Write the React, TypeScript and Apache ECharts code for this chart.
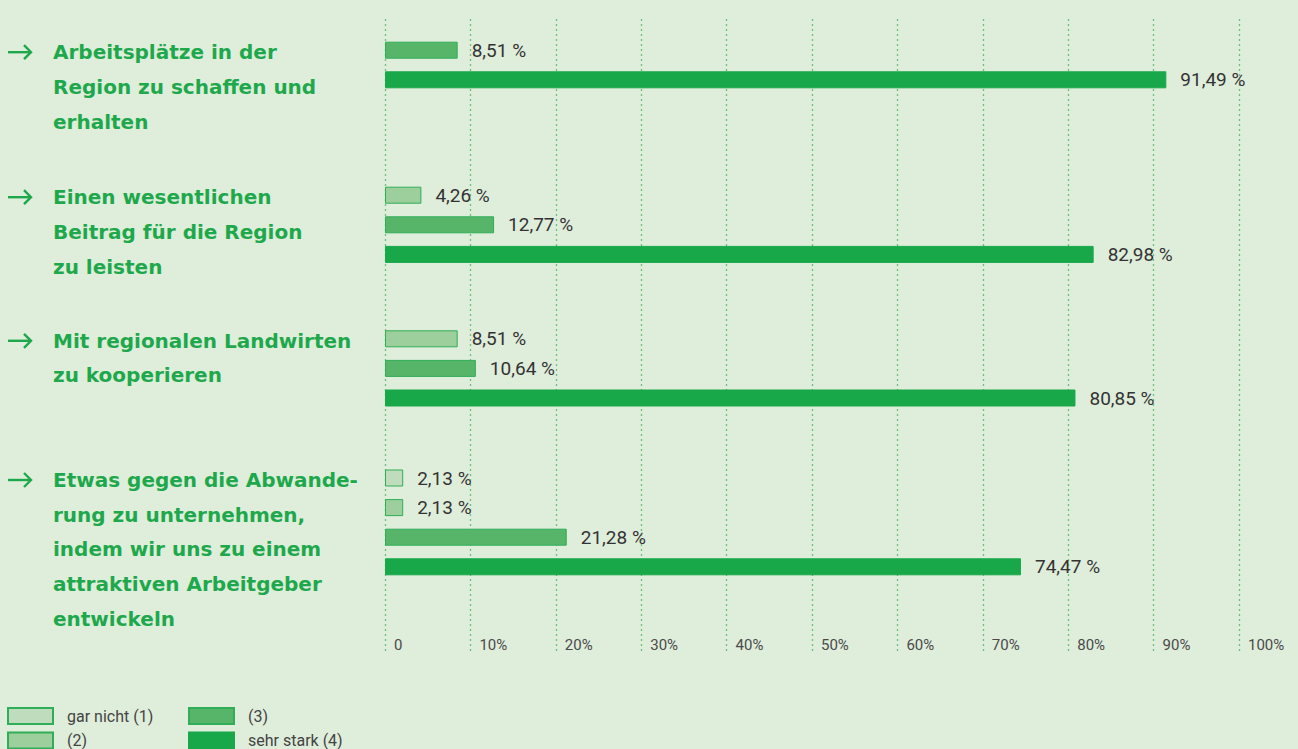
import React, { useEffect, useRef } from "react";
import * as echarts from "echarts";

// ---- data ----
const levels = ["gar nicht (1)", "(2)", "(3)", "sehr stark (4)"];
const questions = [
  ["Arbeitsplätze in der", "Region zu schaffen und", "erhalten"],
  ["Einen wesentlichen", "Beitrag für die Region", "zu leisten"],
  ["Mit regionalen Landwirten", "zu kooperieren"],
  ["Etwas gegen die Abwande-", "rung zu unternehmen,", "indem wir uns zu einem", "attraktiven Arbeitgeber", "entwickeln"],
];
// shares per level (1..4) for each question, in %
const q1Values = [0, 0, 8.51, 91.49];
const q2Values = [0, 4.26, 12.77, 82.98];
const q3Values = [0, 8.51, 10.64, 80.85];
const q4Values = [2.13, 2.13, 21.28, 74.47];
const allValues = [q1Values, q2Values, q3Values, q4Values];
const xTicks = [0, 10, 20, 30, 40, 50, 60, 70, 80, 90, 100];

// ---- styles / layout ----
const bg = "#dfeddb";
const green = "#1ea84c";
const fills = ["#bfdcbd", "#9dcf9c", "#57b56a", "#18a84a"];
const borders = ["#2fae57", "#2fae57", "#2fae57", "#18a84a"];
const groupFirstCenter = [50.2, 195.2, 338.8, 478];
const slot = 29.6;
const gridLeft = 385;
const gridRight = 59;
const legendPos = [
  { left: 7, top: 707 },
  { left: 7, top: 731.5 },
  { left: 188, top: 707 },
  { left: 188, top: 731.5 },
];

export default function App() {
  const ref = useRef<HTMLDivElement>(null);
  useEffect(() => {
    if (!ref.current) return;
    const chart = echarts.init(ref.current, null, { renderer: "svg" });

    const grids: any[] = [
      { left: gridLeft, right: gridRight, top: 19, bottom: 98 },
    ];
    const xAxes: any[] = [
      {
        gridIndex: 0,
        type: "value",
        min: 0,
        max: 100,
        interval: 10,
        axisLine: { show: false },
        axisTick: { show: false },
        splitLine: {
          show: true,
          lineStyle: { color: "#6cbf7d", type: [2, 3], width: 1.3 },
        },
        axisLabel: {
          margin: -6,
          align: "left",
          verticalAlign: "middle",
          padding: [0, 0, 0, 9],
          color: "#4a4a4a",
          fontFamily: "Roboto",
          fontSize: 15,
          formatter: (v: number) => (v === 0 ? "0" : v + "%"),
          customValues: xTicks,
        },
      },
    ];
    const yAxes: any[] = [
      { gridIndex: 0, type: "value", show: false, min: 0, max: 1 },
    ];
    const series: any[] = [];
    const graphic: any[] = [];

    allValues.forEach((vals, g) => {
      const rows = vals.map((v, j) => (v > 0 ? j : -1)).filter((j) => j >= 0);
      const top = groupFirstCenter[g] - slot / 2;
      grids.push({
        left: gridLeft,
        right: gridRight,
        top,
        height: rows.length * slot,
      });
      xAxes.push({ gridIndex: g + 1, type: "value", min: 0, max: 100, show: false });
      yAxes.push({
        gridIndex: g + 1,
        type: "category",
        inverse: true,
        show: false,
        data: rows.map((j) => levels[j]),
      });
      rows.forEach((j) => {
        series.push({
          type: "bar",
          name: levels[j],
          xAxisIndex: g + 1,
          yAxisIndex: g + 1,
          barWidth: 17,
          barGap: "-100%",
          data: rows.map((r) => (r === j ? vals[j] : "-")),
          itemStyle: { color: fills[j], borderColor: borders[j], borderWidth: 1 },
          label: {
            show: true,
            position: "right",
            distance: 14,
            color: "#333",
            fontFamily: "Roboto",
            fontSize: 19,
            formatter: (p: any) => p.value.toFixed(2).replace(".", ",") + " %",
          },
        });
      });

      const cy = groupFirstCenter[g] + 2;
      const lh = 34.7;
      graphic.push({
        type: "text",
        x: 53,
        y: cy - lh / 2,
        style: {
          text: questions[g].join("\n"),
          font: "bold 20px 'DejaVu Sans'",
          fill: green,
          lineHeight: lh,
          verticalAlign: "top",
          align: "left",
        },
      });
      graphic.push({
        type: "line",
        shape: { x1: 8, y1: cy, x2: 31, y2: cy },
        style: { stroke: green, lineWidth: 2.4 },
      });
      graphic.push({
        type: "polyline",
        shape: { points: [[24, cy - 7], [31, cy], [24, cy + 7]] },
        style: { stroke: green, lineWidth: 2.4, fill: null },
      });
    });

    const legends = levels.map((name, j) => ({
      orient: "vertical",
      left: legendPos[j].left,
      top: legendPos[j].top,
      padding: 0,
      itemWidth: 45,
      itemHeight: 16,
      icon: "rect",
      selectedMode: false,
      data: [name],
      textStyle: {
        color: "#444",
        fontFamily: "Roboto",
        fontSize: 16,
        padding: [0, 0, 0, 9],
      },
    }));

    chart.setOption({
      animation: false,
      backgroundColor: bg,
      textStyle: { fontFamily: "Roboto" },
      grid: grids,
      xAxis: xAxes,
      yAxis: yAxes,
      legend: legends,
      series,
      graphic,
    });
    return () => chart.dispose();
  }, []);
  return (
    <div
      ref={ref}
      style={{ position: "fixed", left: 0, top: 0, width: 1298, height: 749 }}
    />
  );
}
